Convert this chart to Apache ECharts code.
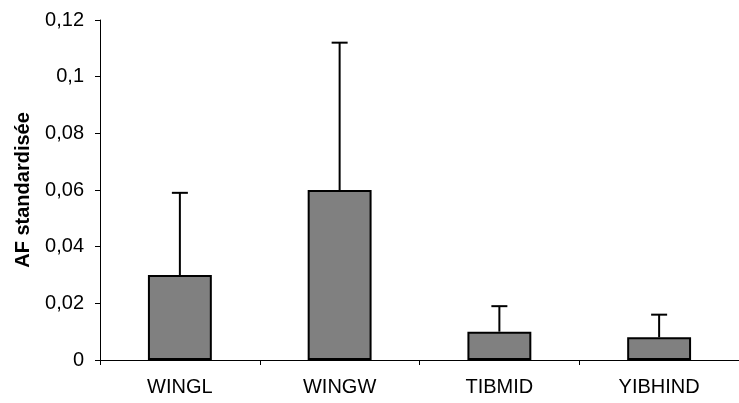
<!DOCTYPE html>
<html>
<head>
<meta charset="utf-8">
<script src="https://cdn.jsdelivr.net/npm/echarts@6/dist/echarts.min.js"></script>
<style>
  html, body { margin: 0; padding: 0; background: #fff; }
  #chart { width: 739px; height: 403px; }
</style>
</head>
<body>
<div id="chart"></div>
<script>
// Traits and their standardised fluctuating asymmetry (mean and upper error)
const categories = ['WINGL', 'WINGW', 'TIBMID', 'YIBHIND'];
const meanAF = [0.03, 0.06, 0.01, 0.008];
const upperAF = [0.059, 0.112, 0.019, 0.016];
const yTicks = { min: 0, max: 0.12, interval: 0.02 };

const chart = echarts.init(document.getElementById('chart'), null, { renderer: 'canvas' });

const fontFamily = 'Arial, "Liberation Sans", sans-serif';

chart.setOption({
  animation: false,
  backgroundColor: '#ffffff',
  grid: { left: 100, top: 20, bottom: 43, width: 642, containLabel: false },
  xAxis: {
    type: 'category',
    data: categories,
    boundaryGap: true,
    axisLine: { lineStyle: { color: '#000', width: 1 } },
    axisTick: { show: true, length: 5, inside: false, lineStyle: { color: '#000' } },
    axisLabel: { color: '#000', fontSize: 20, fontFamily, margin: 17 }
  },
  yAxis: {
    type: 'value',
    min: yTicks.min,
    max: yTicks.max,
    interval: yTicks.interval,
    name: 'AF standardisée',
    nameLocation: 'middle',
    nameGap: 67,
    nameRotate: 90,
    nameTextStyle: { color: '#000', fontSize: 20, fontWeight: 'bold', fontFamily },
    axisLine: { show: true, lineStyle: { color: '#000', width: 1 } },
    axisTick: { show: true, length: 5, inside: false, lineStyle: { color: '#000' } },
    splitLine: { show: false },
    axisLabel: {
      color: '#000', fontSize: 20, fontFamily, margin: 16,
      formatter: v => String(+v.toFixed(3)).replace('.', ',')
    }
  },
  series: [
    {
      type: 'bar',
      data: meanAF,
      barWidth: '40%',
      itemStyle: { color: '#808080', borderColor: '#000', borderWidth: 2 },
      z: 2
    },
    {
      // upward error bar with a short cap
      type: 'custom',
      data: categories.map((c, i) => [i, meanAF[i], upperAF[i]]),
      z: 3,
      renderItem: (params, api) => {
        const base = api.coord([api.value(0), api.value(1)]);
        const top = api.coord([api.value(0), api.value(2)]);
        const half = 8;
        const style = { stroke: '#000', lineWidth: 2 };
        return {
          type: 'group',
          children: [
            { type: 'line', shape: { x1: base[0], y1: base[1], x2: top[0], y2: top[1] }, style },
            { type: 'line', shape: { x1: top[0] - half, y1: top[1], x2: top[0] + half, y2: top[1] }, style }
          ]
        };
      }
    }
  ]
});
</script>
</body>
</html>
